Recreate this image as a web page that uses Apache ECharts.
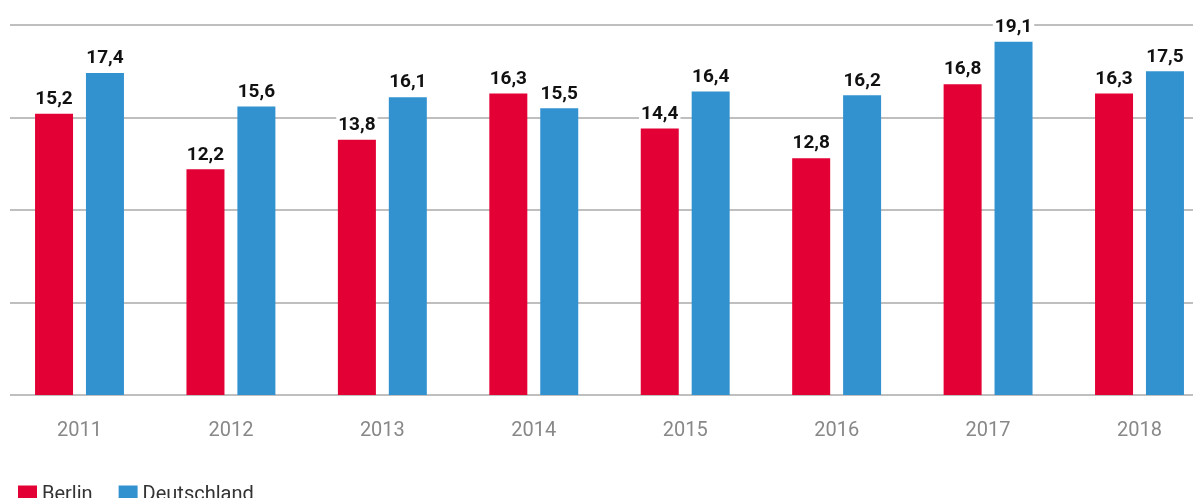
<!DOCTYPE html>
<html><head><meta charset="utf-8">
<script src="https://cdn.jsdelivr.net/npm/echarts@6/dist/echarts.min.js"></script>
<style>html,body{margin:0;padding:0;background:#fff}#c{width:1193px;height:498px}</style>
</head><body><div id="c"></div>
<script>
const years = ['2011','2012','2013','2014','2015','2016','2017','2018'];
const berlin = [15.2, 12.2, 13.8, 16.3, 14.4, 12.8, 16.8, 16.3];
const deutschland = [17.4, 15.6, 16.1, 15.5, 16.4, 16.2, 19.1, 17.5];
const seriesNames = ['Berlin', 'Deutschland'];
const colors = ['#E30034', '#3292D0'];

const FONT = 'Roboto';
const chart = echarts.init(document.getElementById('c'), null, {renderer:'canvas'});
const fmt = p => String(p.value).replace('.', ',').replace(/^(\d+)$/, '$1,0');
const label = {
  show: true, position: 'top', distance: 5,
  color: '#111', fontFamily: FONT, fontWeight: 'bold', fontSize: 19,
  backgroundColor: '#fff', padding: [1, 2, 0, 2],
  formatter: fmt
};
chart.setOption({
  animation: false,
  color: colors,
  grid: [
    {left: 10, right: 0, top: 25, bottom: 103},
    {left: 79.5, right: 53.5, top: 25, bottom: 103}
  ],
  legend: {
    left: 13, top: 480, itemWidth: 19, itemHeight: 19, itemGap: 26, icon: 'rect',
    textStyle: {fontFamily: FONT, fontSize: 20, color: '#333', padding: [0, 0, 0, 0]},
    data: seriesNames
  },
  xAxis: [
    {gridIndex: 0, type: 'category', data: years, show: false},
    {gridIndex: 1, type: 'category', data: years, boundaryGap: false,
     axisLine: {show: false}, axisTick: {show: false},
     axisLabel: {color: '#888', fontFamily: FONT, fontSize: 20, margin: 26}}
  ],
  yAxis: [
    {gridIndex: 0, type: 'value', min: 0, max: 20, interval: 5,
     axisLabel: {show: false}, axisLine: {show: false}, axisTick: {show: false},
     splitLine: {lineStyle: {color: '#aaa', width: 1.5}}},
    {gridIndex: 1, type: 'value', min: 0, max: 20, interval: 5, show: false,
     splitLine: {show: false}}
  ],
  series: [
    {name: seriesNames[0], type: 'bar', xAxisIndex: 1, yAxisIndex: 1, data: berlin,
     barWidth: 38, barGap: '34%', label: label, z: 3, clip: false},
    {name: seriesNames[1], type: 'bar', xAxisIndex: 1, yAxisIndex: 1, data: deutschland,
     barWidth: 38, barGap: '34%', label: label, z: 3, clip: false}
  ]
});
</script></body></html>
